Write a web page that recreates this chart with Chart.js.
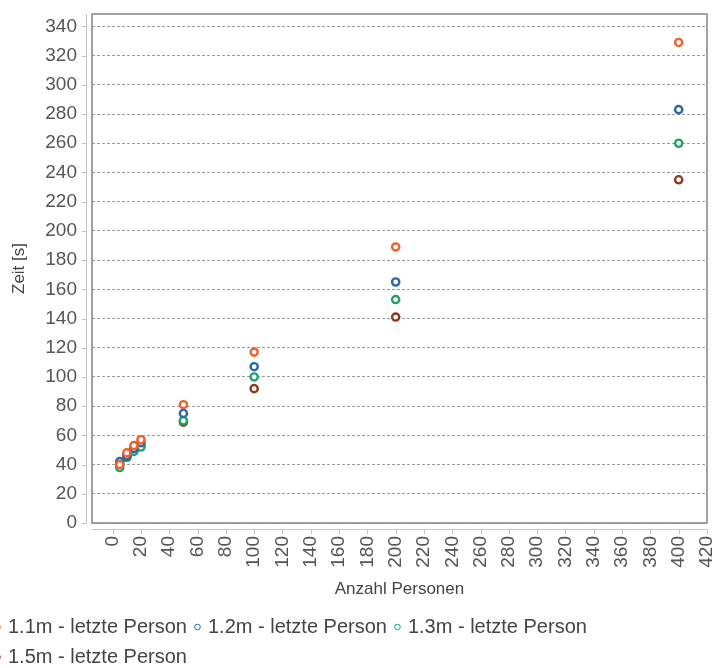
<!DOCTYPE html>
<html>
<head>
<meta charset="utf-8">
<script src="https://cdn.jsdelivr.net/npm/chart.js@4/dist/chart.umd.min.js"></script>
<style>
  html, body { margin: 0; padding: 0; background: #fff; }
  #wrap { width: 717px; height: 668px; }
</style>
</head>
<body>
<div id="wrap"><canvas id="chart"></canvas></div>
<script>
// persons (x) and time in seconds (y)
const persons = [5, 10, 15, 20, 50, 100, 200, 400];
const seriesNames = ['1.1m - letzte Person', '1.2m - letzte Person', '1.3m - letzte Person', '1.5m - letzte Person'];
const time11 = [40, 48, 53, 57, 81, 117, 189, 329];
const time12 = [42, 46, 51, 55, 75, 107, 165, 283];
const time13 = [38, 45, 49, 52, 70, 100, 153, 260];
const time15 = [40, 45, 50, 53, 69, 92, 141, 235];
const colors = ['#f0602a', '#2a68a6', '#1ea468', '#8e3a1c'];

const FONT = "'Liberation Sans', Arial, sans-serif";

function toPoints(vals) {
  return persons.map((p, i) => ({ x: p, y: vals[i] }));
}

const datasets = [time11, time12, time13, time15].map((vals, i) => ({
  label: seriesNames[i],
  data: toPoints(vals),
  borderColor: colors[i],
  backgroundColor: '#ffffff',
  pointRadius: 3.6,
  pointBorderWidth: 2.4,
  pointHoverRadius: 3.6
}));

// drop the extra room chart.js keeps for edge labels
function noEdgePadding(scale) {
  scale.paddingTop = 0;
  scale.paddingBottom = 0;
  scale.paddingLeft = 0;
  scale.paddingRight = 0;
}

// frame around the plot + detached axis lines with small ticks
const framePlugin = {
  id: 'frame',
  afterDraw(chart) {
    const ctx = chart.ctx;
    const a = chart.chartArea;
    const xs = chart.scales.x, ys = chart.scales.y;
    ctx.save();
    ctx.strokeStyle = '#8c8c8c';
    ctx.lineWidth = 1.6;
    ctx.strokeRect(a.left, a.top, a.right - a.left, a.bottom - a.top);

    ctx.strokeStyle = '#c4c4c4';
    ctx.lineWidth = 1;
    ctx.beginPath();
    // y axis
    const yx = a.left - 5.5;
    ctx.moveTo(yx, a.top);
    ctx.lineTo(yx, a.bottom);
    ys.ticks.forEach(t => {
      const py = Math.round(ys.getPixelForValue(t.value)) + 0.5;
      ctx.moveTo(yx, py);
      ctx.lineTo(yx - 5, py);
    });
    // x axis
    const xy = a.bottom + 6.5;
    ctx.moveTo(a.left, xy);
    ctx.lineTo(a.right, xy);
    xs.ticks.forEach(t => {
      const px = Math.round(xs.getPixelForValue(t.value)) + 0.5;
      ctx.moveTo(px, xy);
      ctx.lineTo(px, xy + 5);
    });
    ctx.stroke();
    ctx.restore();
  }
};

new Chart(document.getElementById('chart'), {
  type: 'scatter',
  data: { datasets: datasets },
  options: {
    responsive: true,
    maintainAspectRatio: false,
    animation: false,
    layout: { padding: { top: 14, right: 10, left: -13, bottom: -9 } },
    plugins: {
      legend: {
        position: 'bottom',
        align: 'start',
        labels: {
          usePointStyle: true,
          pointStyle: 'circle',
          boxWidth: 1,
          boxHeight: 4,
          padding: 10,
          color: '#444',
          font: { family: FONT, size: 20 },
          generateLabels(chart) {
            const items = Chart.defaults.plugins.legend.labels.generateLabels(chart);
            items.forEach((it, i) => {
              it.lineWidth = 1;
              it.fillStyle = '#ffffff';
              it.strokeStyle = colors[i];
            });
            return items;
          }
        }
      },
      tooltip: { enabled: false }
    },
    scales: {
      x: {
        type: 'linear',
        min: -14.6,
        max: 420,
        afterFit(scale) { scale.height = 84; noEdgePadding(scale); },
        grid: { display: false, drawTicks: false },
        border: { display: false },
        ticks: {
          stepSize: 20,
          includeBounds: false,
          autoSkip: false,
          minRotation: 90,
          maxRotation: 90,
          padding: 13,
          color: '#555',
          font: { family: FONT, size: 19 }
        },
        title: {
          display: true,
          text: 'Anzahl Personen',
          color: '#444',
          font: { family: FONT, size: 17 },
          padding: { top: 0, bottom: 7 }
        }
      },
      y: {
        min: 0,
        max: 348.5,
        afterFit(scale) { scale.width = 105; noEdgePadding(scale); },
        grid: {
          color: '#9c9c9c',
          lineWidth: 1,
          drawTicks: false
        },
        border: { display: false, dash: [3, 2] },
        ticks: {
          stepSize: 20,
          includeBounds: false,
          padding: 15,
          color: '#555',
          font: { family: FONT, size: 19 }
        },
        title: {
          display: true,
          text: 'Zeit [s]',
          color: '#444',
          font: { family: FONT, size: 17 },
          padding: { top: 22, bottom: 0 }
        }
      }
    }
  },
  plugins: [framePlugin]
});
</script>
</body>
</html>
